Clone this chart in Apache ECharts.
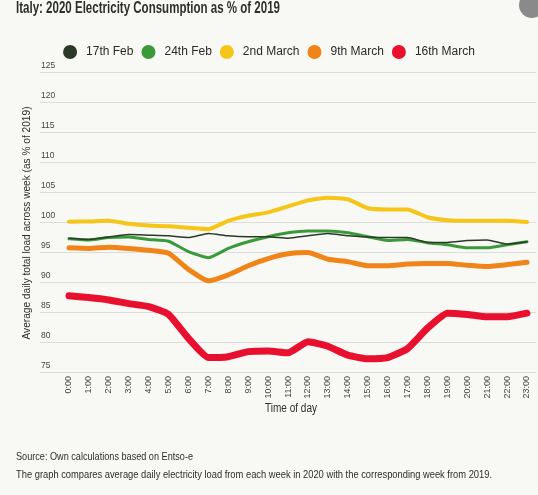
<!DOCTYPE html>
<html>
<head>
<meta charset="utf-8">
<script src="https://cdn.jsdelivr.net/npm/echarts@6/dist/echarts.min.js"></script>
<style>
html,body{margin:0;padding:0;background:#f8f8f4;}
#chart{width:538px;height:495px;}
</style>
</head>
<body>
<div id="chart"></div>
<script>
var hours = ['0:00','1:00','2:00','3:00','4:00','5:00','6:00','7:00','8:00','9:00','10:00','11:00','12:00','13:00','14:00','15:00','16:00','17:00','18:00','19:00','20:00','21:00','22:00','23:00'];
var seriesNames = ['17th Feb','24th Feb','2nd March','9th March','16th March'];
var feb17 = [97.3,97.1,97.5,97.9,97.8,97.7,97.4,98.1,97.7,97.55,97.55,97.3,97.7,98.1,97.7,97.5,97.4,97.4,96.6,96.6,96.9,97.0,96.3,96.7];
var feb24 = [97.2,97.0,97.4,97.5,97.1,96.8,95.05,94.05,95.6,96.7,97.55,98.2,98.5,98.5,98.2,97.55,96.9,97.1,96.55,96.2,95.7,95.7,96.2,96.7];
var mar2 = [100.05,100.1,100.2,99.7,99.4,99.3,99.05,98.8,100.2,101.05,101.6,102.6,103.6,104.05,103.8,102.3,102.1,102.1,100.8,100.3,100.2,100.2,100.2,100.0];
var mar9 = [95.7,95.6,95.8,95.6,95.3,94.8,92.1,90.2,91.2,92.7,93.9,94.7,94.9,93.8,93.4,92.7,92.7,93.0,93.1,93.1,92.8,92.6,92.9,93.3];
var mar16 = [87.7,87.4,87.0,86.4,85.9,84.6,80.6,77.4,77.55,78.4,78.5,78.2,80.05,79.3,77.8,77.2,77.4,78.9,82.3,84.8,84.6,84.2,84.2,84.8];
var yTicks = [75,80,85,90,95,100,105,110,115,120,125];

var FONT = 'Liberation Sans';
var colors = ['#2b3a28','#3a9a3a','#f5c518','#f08418','#e8102e'];
var widths = [1.5,3,4,5,7];
var dataSets = [feb17,feb24,mar2,mar9,mar16];
var zs = [5,3,2,2,6];

var mctx = document.createElement('canvas').getContext('2d');
function fitText(text, size, weight, targetW, x, y, align, rot){
  mctx.font = (weight||'normal') + ' ' + size + 'px "' + FONT + '"';
  var w = mctx.measureText(text).width;
  var s = targetW / w;
  var el = {type:'text', x:x, y:y,
    style:{text:text, fontFamily:FONT, fontSize:size, fontWeight:weight||'normal', fill:'#2e2e2e', align:align||'left', verticalAlign:'middle'}};
  if (rot) { el.rotation = rot; }
  el.scaleX = s;
  return el;
}

var chart = echarts.init(document.getElementById('chart'));
var series = dataSets.map(function(d,i){
  return {
    name: seriesNames[i], type:'line', xAxisIndex:1, yAxisIndex:1,
    data: d, symbol:'none', smooth:0.15, z: zs[i],
    color: colors[i],
    lineStyle:{width:widths[i], color:colors[i], join:'round', cap:'round'}
  };
});
chart.setOption({
  backgroundColor:'#f8f8f4',
  animation:false,
  textStyle:{fontFamily:FONT},
  legend:{
    data:seriesNames, left:'center', top:40,
    icon:'circle', itemWidth:14, itemHeight:14, itemGap:8,
    textStyle:{fontFamily:FONT, fontSize:12, color:'#2a2a2a', padding:[0,0,0,4]}
  },
  grid:[
    {left:40, right:2, top:72, bottom:123},
    {left:69, right:11, top:72, bottom:123}
  ],
  xAxis:[
    {type:'category', gridIndex:0, data:hours, show:false},
    {type:'category', gridIndex:1, data:hours, boundaryGap:false,
     axisLine:{show:false}, axisTick:{show:false},
     axisLabel:{rotate:90, fontSize:9, color:'#444', margin:4, fontFamily:FONT, interval:0},
     splitLine:{show:false}}
  ],
  yAxis:[
    {type:'value', gridIndex:0, min:75, max:125, interval:5,
     axisLine:{show:false}, axisTick:{show:false},
     axisLabel:{inside:true, margin:1, verticalAlign:'bottom', padding:[0,0,2,0], fontSize:8.5, color:'#444', fontFamily:FONT},
     splitLine:{lineStyle:{color:'#dcdcdc', width:1}}},
    {type:'value', gridIndex:1, min:75, max:125, interval:5, show:false, splitLine:{show:false}}
  ],
  graphic:[
    fitText('Italy: 2020 Electricity Consumption as % of 2019', 17, 'bold', 264, 16, 8, 'left'),
    fitText('Average daily total load across week (as % of 2019)', 11, 'normal', 233, 27, 223, 'center', Math.PI/2),
    fitText('Time of day', 12, 'normal', 52, 291, 409, 'center'),
    fitText('Source: Own calculations based on Entso-e', 11.5, 'normal', 177, 16, 457, 'left'),
    fitText('The graph compares average daily electricity load from each week in 2020 with the corresponding week from 2019.', 11.5, 'normal', 476, 16, 475, 'left'),
    {type:'circle', shape:{cx:532, cy:5, r:13}, style:{fill:'#8a8a8a'}}
  ],
  series: series
});
</script>
</body>
</html>
